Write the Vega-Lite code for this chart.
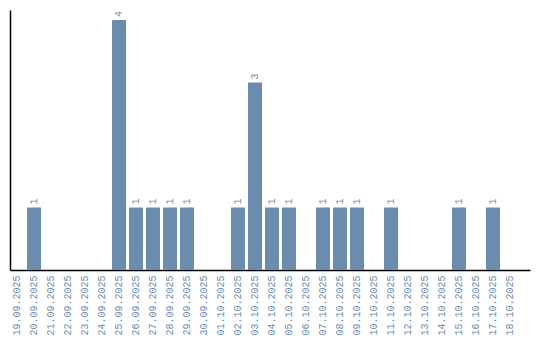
{
  "$schema": "https://vega.github.io/schema/vega-lite/v6.json",
  "width": 520,
  "height": 260,
  "autosize": {"type": "none"},
  "padding": {"left": 10, "top": 10, "right": 10, "bottom": 70},
  "background": "white",
  "config": {"view": {"stroke": null}},
  "data": {"values": [
    {"date": "19.09.2025", "count": 0},
    {"date": "20.09.2025", "count": 1},
    {"date": "21.09.2025", "count": 0},
    {"date": "22.09.2025", "count": 0},
    {"date": "23.09.2025", "count": 0},
    {"date": "24.09.2025", "count": 0},
    {"date": "25.09.2025", "count": 4},
    {"date": "26.09.2025", "count": 1},
    {"date": "27.09.2025", "count": 1},
    {"date": "28.09.2025", "count": 1},
    {"date": "29.09.2025", "count": 1},
    {"date": "30.09.2025", "count": 0},
    {"date": "01.10.2025", "count": 0},
    {"date": "02.10.2025", "count": 1},
    {"date": "03.10.2025", "count": 3},
    {"date": "04.10.2025", "count": 1},
    {"date": "05.10.2025", "count": 1},
    {"date": "06.10.2025", "count": 0},
    {"date": "07.10.2025", "count": 1},
    {"date": "08.10.2025", "count": 1},
    {"date": "09.10.2025", "count": 1},
    {"date": "10.10.2025", "count": 0},
    {"date": "11.10.2025", "count": 1},
    {"date": "12.10.2025", "count": 0},
    {"date": "13.10.2025", "count": 0},
    {"date": "14.10.2025", "count": 0},
    {"date": "15.10.2025", "count": 1},
    {"date": "16.10.2025", "count": 0},
    {"date": "17.10.2025", "count": 1},
    {"date": "18.10.2025", "count": 0}
  ]},
  "encoding": {
    "x": {
      "field": "date", "type": "ordinal", "sort": null,
      "scale": {"paddingInner": 0.1765, "paddingOuter": 0.382, "align": 0},
      "axis": {
        "title": null, "labelAngle": -90, "labelAlign": "right", "labelBaseline": "middle",
        "labelFont": "Liberation Mono", "labelFontSize": 10, "labelColor": "#6b8cae",
        "ticks": false, "labelPadding": 5, "domainColor": "black", "domainWidth": 1.5
      }
    },
    "y": {
      "field": "count", "type": "quantitative",
      "scale": {"domain": [0, 4.16], "nice": false},
      "axis": {"title": null, "labels": false, "ticks": false, "grid": false, "domainColor": "black", "domainWidth": 1.5}
    }
  },
  "layer": [
    {"mark": {"type": "bar", "color": "#6b8cad"}},
    {
      "transform": [{"filter": "datum.count > 0"}],
      "mark": {"type": "text", "angle": -90, "align": "left", "baseline": "middle", "dx": 3, "font": "Liberation Mono", "fontSize": 10, "color": "#6b8cae"},
      "encoding": {"text": {"field": "count", "type": "quantitative"}}
    }
  ]
}
